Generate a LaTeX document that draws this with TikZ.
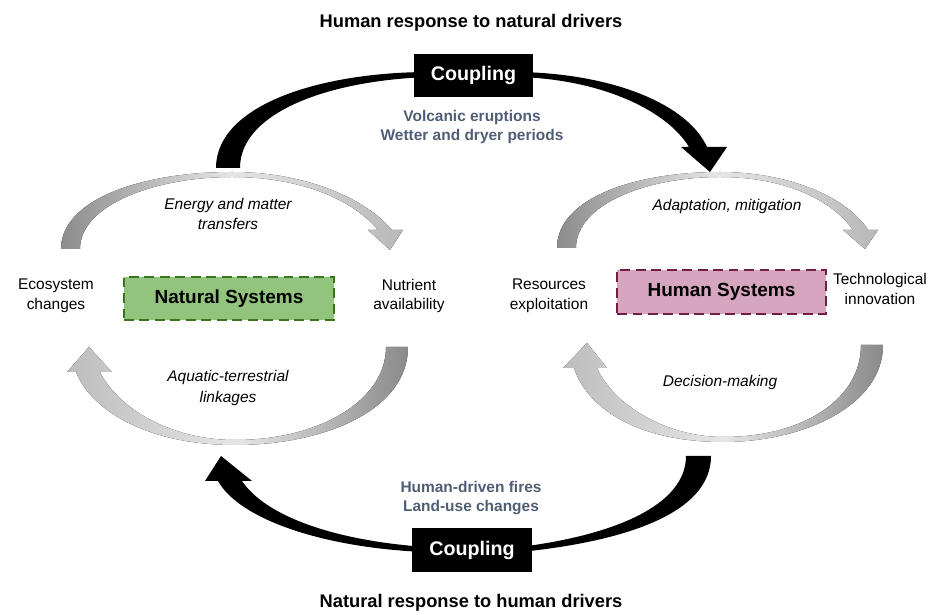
\documentclass[tikz,border=0pt]{standalone}
\usepackage{fontspec}
\usepackage{tikz}
\usepackage{xcolor}
\setmainfont{Liberation Sans}
\definecolor{driverblue}{RGB}{80,94,117}
\definecolor{natfill}{RGB}{147,196,125}
\definecolor{natline}{RGB}{56,118,29}
\definecolor{humfill}{RGB}{213,166,189}
\definecolor{humline}{RGB}{116,27,71}

\begin{document}
\begin{tikzpicture}[x=0.025cm, y=-0.025cm,
    couplingbox/.style={fill=black, text=white, inner sep=0cm, minimum width=2.98cm, minimum height=1.08cm, font=\fontsize{14}{16}\selectfont\bfseries},
    systembox/.style={draw, line width=1.6pt, dash pattern=on 7pt off 4pt, inner sep=0cm, minimum width=5.25cm, minimum height=1.08cm, font=\fontsize{13.5}{16}\selectfont\bfseries},
    cyclelabel/.style={align=center, font=\fontsize{11}{14}\selectfont},
    flowlabel/.style={align=center, font=\fontsize{11}{14.5}\selectfont\itshape},
    driverlabel/.style={align=center, text=driverblue, font=\fontsize{11}{13.5}\selectfont\bfseries},
    titlelabel/.style={font=\fontsize{13}{15}\selectfont\bfseries},
    grayarc/.style={left color=black!45, right color=black!28, middle color=black!10},
    grayarcb/.style={left color=black!26, right color=black!46, middle color=black!10}]
                \useasboundingbox (0,0) rectangle (928,615);

                \fill (216,168) .. controls (216,105) and (320,72) .. (430,72) -- (520,72)
                    .. controls (615,74) and (688,105) .. (707,147) -- (727,147) -- (710,172) -- (681,147) -- (689,147)
                    .. controls (668,112) and (605,80) .. (520,77) -- (430,77)
                    .. controls (330,80) and (240,112) .. (240,168) -- cycle;
                \fill (711,456) .. controls (711,515) and (620,542) .. (520,552) -- (425,552)
                    .. controls (325,548) and (240,520) .. (218,481) -- (205,481) -- (221,456) -- (252,481) -- (242,481)
                    .. controls (265,515) and (330,540) .. (425,547) -- (520,547)
                    .. controls (615,535) and (686,505) .. (686,456) -- cycle;

                \fill[grayarc] (61,249) .. controls (61,200) and (140,172) .. (232,172)
                    .. controls (305,172) and (365,198) .. (392,230) -- (403,230) -- (390,250) -- (368,230) -- (378,230)
                    .. controls (352,199) and (300,177) .. (232,177)
                    .. controls (155,177) and (80,205) .. (80,249) -- cycle;
                \fill[grayarcb] (408,347) .. controls (408,410) and (325,445) .. (235,445)
                    .. controls (150,445) and (92,412) .. (76,372) -- (67,372) -- (89,347) -- (112,372) -- (100,372)
                    .. controls (118,408) and (170,440) .. (235,440)
                    .. controls (320,440) and (386,400) .. (386,347) -- cycle;
                \fill[grayarc] (557,248) .. controls (557,198) and (635,172) .. (720,172)
                    .. controls (790,172) and (848,198) .. (868,230) -- (878,230) -- (865,249) -- (843,230) -- (853,230)
                    .. controls (832,200) and (785,177) .. (720,177)
                    .. controls (645,177) and (576,205) .. (576,248) -- cycle;
                \fill[grayarcb] (883,345) .. controls (883,405) and (805,442) .. (723,442)
                    .. controls (640,442) and (588,410) .. (574,368) -- (563,368) -- (587,343) -- (607,368) -- (597,368)
                    .. controls (613,404) and (665,437) .. (723,437)
                    .. controls (805,437) and (861,398) .. (861,345) -- cycle;

                \node[titlelabel] (top title) at (471, 23) {Human response to natural drivers};
                \node[couplingbox] (coupling top) at (473.5, 75.5) {Coupling};
                \node[driverlabel] (natural drivers) at (472, 127) {Volcanic eruptions\\Wetter and dryer periods};

                \node[systembox, fill=natfill, draw=natline] (natural) at (229, 298.5) {Natural Systems};
                \node[flowlabel] (energy) at (228, 214) {Energy and matter\\transfers};
                \node[cyclelabel] (ecosystem) at (56, 296) {Ecosystem\\changes};
                \node[cyclelabel] (nutrient) at (409, 296) {Nutrient\\availability};
                \node[flowlabel] (aquatic) at (228, 388) {Aquatic-terrestrial\\linkages};

                \node[systembox, fill=humfill, draw=humline, minimum width=5.22cm, minimum height=1.1cm] (human) at (721.5, 292) {Human Systems};
                \node[flowlabel] (adaptation) at (727, 207) {Adaptation, mitigation};
                \node[cyclelabel] (resources) at (549, 296) {Resources\\exploitation};
                \node[cyclelabel] (technology) at (880, 289) {Technological\\innovation};
                \node[flowlabel] (decision) at (720, 383) {Decision-making};

                \node[driverlabel] (human drivers) at (471, 498) {Human-driven fires\\Land-use changes};
                \node[couplingbox] (coupling bottom) at (472, 550) {Coupling};
                \node[titlelabel] (bottom title) at (471, 603) {Natural response to human drivers};
            \end{tikzpicture}
\end{document}
